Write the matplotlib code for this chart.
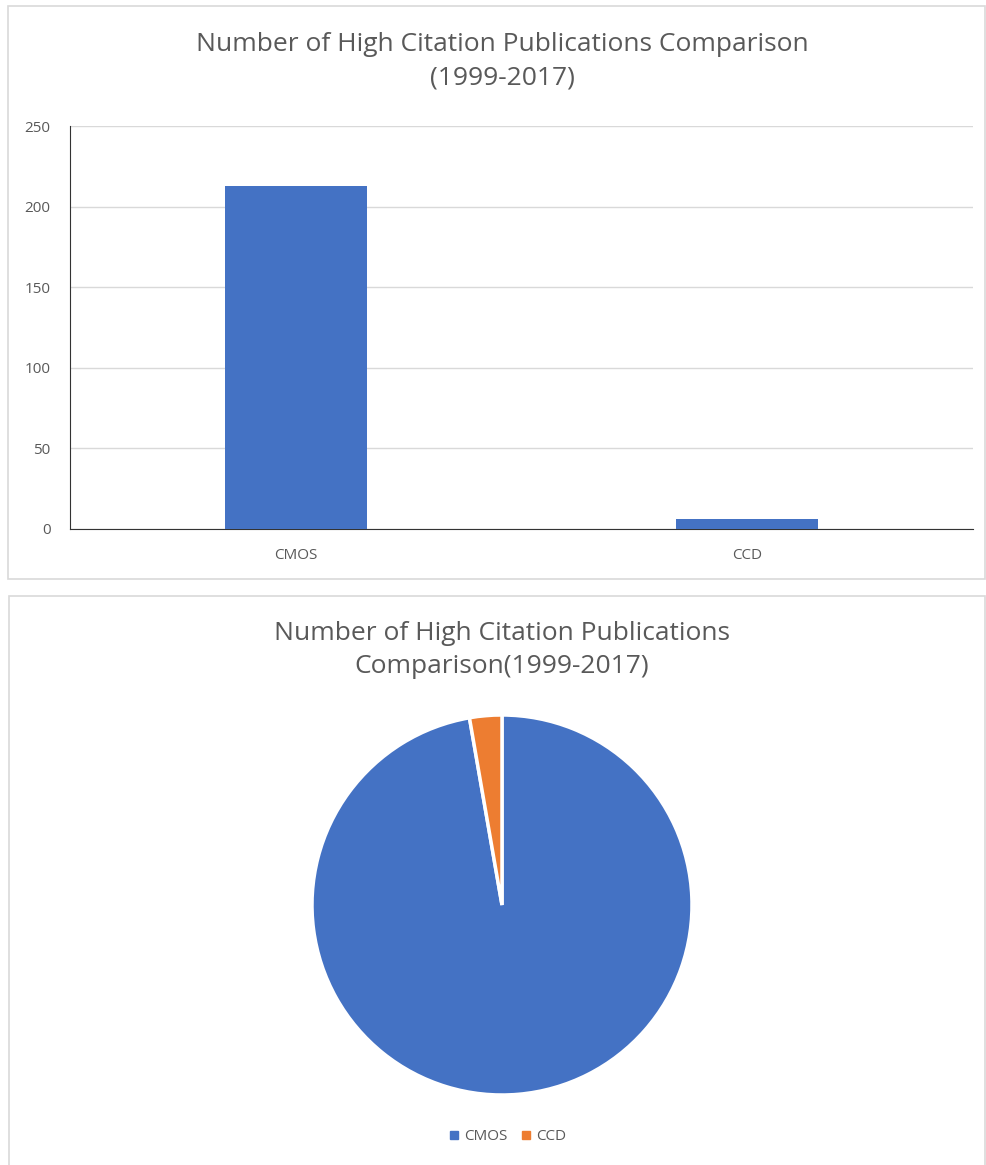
import matplotlib
matplotlib.use("Agg")
import matplotlib.pyplot as plt
from matplotlib.patches import Rectangle

categories = ["CMOS", "CCD"]
values = [213, 6]
colors = ["#4472C4", "#ED7D31"]
yticks = [0, 50, 100, 150, 200, 250]
title_bar = "Number of High Citation Publications Comparison\n(1999-2017)"
title_pie = "Number of High Citation Publications\nComparison(1999-2017)"

W, H = 986, 1165
fig = plt.figure(figsize=(W / 100, H / 100), dpi=100)
plt.rcParams['font.family'] = ['Open Sans', 'DejaVu Sans']
txt = "#595959"

def fx(x): return x / W
def fy(y): return 1 - y / H

# panel borders
fig.patches.append(Rectangle((fx(8), fy(579)), fx(977), (579 - 6) / H, transform=fig.transFigure,
                             fill=False, edgecolor="#d9d9d9", linewidth=1.2))
fig.patches.append(Rectangle((fx(9), fy(1170)), fx(976), (1170 - 596) / H, transform=fig.transFigure,
                             fill=False, edgecolor="#d9d9d9", linewidth=1.2))

# bar chart
ax = fig.add_axes([fx(70), fy(529), fx(973 - 70), (529 - 126) / H])
x = list(range(len(categories)))
ax.bar(x, values, width=0.315, color=colors[0], zorder=3)
ax.set_xlim(-0.5, 1.5)
ax.set_ylim(0, 250)
ax.set_yticks(yticks)
ax.set_xticks(x)
ax.set_xticklabels(categories)
ax.grid(axis="y", color="#d9d9d9", linewidth=1, zorder=0)
for s in ["top", "right"]:
    ax.spines[s].set_visible(False)
ax.spines["left"].set_color("#333333")
ax.spines["bottom"].set_color("#333333")
ax.tick_params(axis="both", length=0, labelsize=11, labelcolor=txt)
ax.tick_params(axis="y", pad=14)
ax.tick_params(axis="x", pad=14)
fig.text(fx(502), fy(61), title_bar, ha="center", va="center", fontsize=19, color=txt, linespacing=1.45)

# pie chart
r = 190
axp = fig.add_axes([fx(502 - r), fy(905 + r), 2 * r / W, 2 * r / H])
axp.pie(values, colors=colors, startangle=90, counterclock=False,
        wedgeprops=dict(edgecolor="white", linewidth=2.5))
axp.set_xlim(-1, 1)
axp.set_ylim(-1, 1)
axp.set_aspect("equal")
fig.text(fx(502), fy(650), title_pie, ha="center", va="center", fontsize=19, color=txt, linespacing=1.45)

# legend
handles = [Rectangle((0, 0), 1, 1, color=c) for c in colors]
fig.legend(handles, categories, loc="center", bbox_to_anchor=(fx(508), fy(1137)), ncol=2,
           frameon=False, fontsize=11, labelcolor=txt, handlelength=0.5, handleheight=0.5,
           handletextpad=0.4, columnspacing=1.0)

fig.savefig("out.png", dpi=100)
